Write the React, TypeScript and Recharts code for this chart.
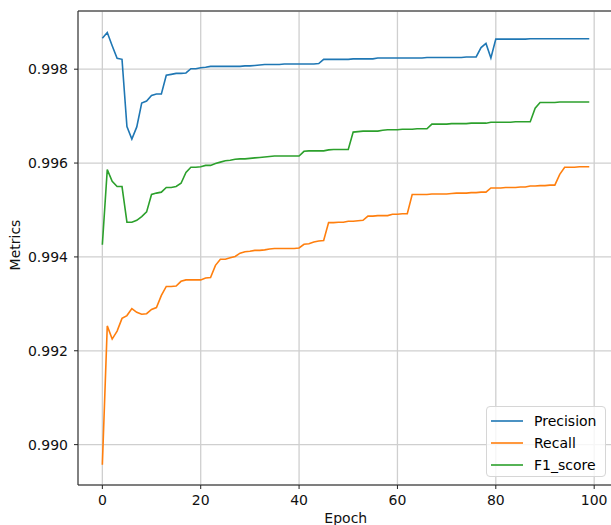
import React from "react";
import {
  LineChart,
  Line,
  XAxis,
  YAxis,
  CartesianGrid,
  ReferenceLine,
  Legend,
} from "recharts";

const precision = [
  0.99866, 0.99878, 0.9985, 0.99823, 0.99821, 0.99678, 0.99651, 0.99677, 0.99728, 0.99732,
  0.99744, 0.99747, 0.99747, 0.99787, 0.99789, 0.99791, 0.99791, 0.99792, 0.99801, 0.99801,
  0.99803, 0.99804, 0.99806, 0.99806, 0.99806, 0.99806, 0.99806, 0.99806, 0.99806, 0.99807,
  0.99807, 0.99808, 0.99809, 0.9981, 0.9981, 0.9981, 0.9981, 0.99811, 0.99811, 0.99811,
  0.99811, 0.99811, 0.99811, 0.99811, 0.99812, 0.99821, 0.99821, 0.99821, 0.99821, 0.99821,
  0.99821, 0.99822, 0.99822, 0.99822, 0.99822, 0.99822, 0.99824, 0.99824, 0.99824, 0.99824,
  0.99824, 0.99824, 0.99824, 0.99824, 0.99824, 0.99824, 0.99825, 0.99825, 0.99825, 0.99825,
  0.99825, 0.99825, 0.99825, 0.99825, 0.99826, 0.99826, 0.99826, 0.99846, 0.99855, 0.99824,
  0.99864, 0.99864, 0.99864, 0.99864, 0.99864, 0.99864, 0.99864, 0.99865, 0.99865, 0.99865,
  0.99865, 0.99865, 0.99865, 0.99865, 0.99865, 0.99865, 0.99865, 0.99865, 0.99865, 0.99865,
];

const recall = [
  0.98957, 0.99253, 0.99225, 0.99242, 0.99269, 0.99275, 0.9929, 0.99282, 0.99278, 0.99279,
  0.99288, 0.99292, 0.99318, 0.99337, 0.99337, 0.99338, 0.99348, 0.99351, 0.99351, 0.99351,
  0.99351, 0.99355, 0.99356, 0.99382, 0.99395, 0.99395, 0.99398, 0.99401, 0.99408, 0.99411,
  0.99412, 0.99414, 0.99414, 0.99415, 0.99417, 0.99418, 0.99418, 0.99418, 0.99418, 0.99418,
  0.99419, 0.99427, 0.99428, 0.99432, 0.99434, 0.99435, 0.99473, 0.99473, 0.99474, 0.99474,
  0.99476, 0.99476, 0.99477, 0.99478, 0.99487, 0.99487, 0.99488, 0.99488, 0.99488, 0.99491,
  0.99491, 0.99492, 0.99492, 0.99533, 0.99533, 0.99533, 0.99533, 0.99534, 0.99534, 0.99534,
  0.99534, 0.99535, 0.99536, 0.99536, 0.99536, 0.99537, 0.99537, 0.99538, 0.99538, 0.99547,
  0.99547, 0.99547, 0.99548, 0.99548, 0.99548, 0.99549, 0.99549, 0.99551, 0.99551, 0.99552,
  0.99552, 0.99553, 0.99553, 0.99576, 0.99591, 0.99591, 0.99591, 0.99592, 0.99592, 0.99592,
];

const f1Score = [
  0.99426, 0.99586, 0.99561, 0.9955, 0.9955, 0.99474, 0.99474, 0.99478, 0.99486, 0.99496,
  0.99533, 0.99536, 0.99538, 0.99548, 0.99548, 0.9955, 0.99557, 0.9958, 0.99591, 0.99591,
  0.99592, 0.99595, 0.99595, 0.99599, 0.99602, 0.99605, 0.99606, 0.99608, 0.99609, 0.99609,
  0.9961, 0.99611, 0.99612, 0.99613, 0.99614, 0.99615, 0.99615, 0.99615, 0.99615, 0.99615,
  0.99615, 0.99625, 0.99626, 0.99626, 0.99626, 0.99626, 0.99628, 0.99629, 0.99629, 0.99629,
  0.99629, 0.99666, 0.99667, 0.99668, 0.99668, 0.99668, 0.99668, 0.9967, 0.99671, 0.99671,
  0.99671, 0.99672, 0.99672, 0.99672, 0.99673, 0.99673, 0.99673, 0.99683, 0.99683, 0.99683,
  0.99683, 0.99684, 0.99684, 0.99684, 0.99684, 0.99685, 0.99685, 0.99685, 0.99685, 0.99687,
  0.99687, 0.99687, 0.99687, 0.99687, 0.99688, 0.99688, 0.99688, 0.99688, 0.99717, 0.99729,
  0.99729, 0.99729, 0.99729, 0.9973, 0.9973, 0.9973, 0.9973, 0.9973, 0.9973, 0.9973,
];

const xTicks = [0, 20, 40, 60, 80, 100];
const yTicks = [0.99, 0.992, 0.994, 0.996, 0.998];
const xDomain: [number, number] = [-4.95, 103.95];
const yDomain: [number, number] = [0.98914, 0.99924];

const series = [
  { key: "Precision", color: "#1f77b4", values: precision },
  { key: "Recall", color: "#ff7f0e", values: recall },
  { key: "F1_score", color: "#2ca02c", values: f1Score },
];

const data = precision.map((_, i) => {
  const row: Record<string, number> = { epoch: i };
  series.forEach((s) => {
    row[s.key] = s.values[i];
  });
  return row;
});

const FONT = "DejaVu Sans, sans-serif";

const LegendBox = () => (
  <div
    style={{
      width: 120,
      height: 71,
      boxSizing: "border-box",
      border: "1px solid #d6d6d6",
      borderRadius: 4,
      background: "rgba(255,255,255,0.8)",
      fontFamily: FONT,
      fontSize: 14,
      color: "#000",
      paddingTop: 3,
    }}
  >
    {series.map((s) => (
      <div key={s.key} style={{ display: "flex", alignItems: "center", height: 22 }}>
        <svg width={47} height={22} style={{ display: "block" }}>
          <line x1={4} y1={11} x2={36} y2={11} stroke={s.color} strokeWidth={1.6} />
        </svg>
        <span style={{ lineHeight: "22px" }}>{s.key}</span>
      </div>
    ))}
  </div>
);

export default function App() {
  return (
    <div
      style={{
        position: "absolute",
        left: 0,
        top: 0,
        width: 611,
        height: 525,
        overflow: "hidden",
        background: "#fff",
      }}
    >
      <LineChart
        width={620}
        height={525}
        data={data}
        margin={{ top: 11, right: 6.4, bottom: 0, left: 0 }}
        style={{ fontFamily: FONT }}
      >
        <CartesianGrid stroke="#cfcfcf" strokeWidth={1.3} />
        <XAxis
          dataKey="epoch"
          type="number"
          domain={xDomain}
          ticks={xTicks}
          allowDataOverflow
          height={40}
          tickSize={4}
          tickMargin={6}
          stroke="#222"
          tick={{ fill: "#111", fontSize: 14, fontFamily: FONT }}
          label={{
            value: "Epoch",
            position: "insideBottom",
            offset: 2,
            fill: "#111",
            fontSize: 14,
            fontFamily: FONT,
          }}
        />
        <YAxis
          type="number"
          domain={yDomain}
          ticks={yTicks}
          allowDataOverflow
          width={78}
          tickSize={4}
          tickMargin={6}
          stroke="#222"
          tickFormatter={(v: number) => v.toFixed(3)}
          tick={{ fill: "#111", fontSize: 14, fontFamily: FONT }}
          label={(props: any) => {
            const vb = props.viewBox || {};
            const cx = 20;
            const cy = (vb.y ?? 11) + (vb.height ?? 474) / 2 - 3;
            return (
              <text
                x={cx}
                y={cy}
                transform={`rotate(-90, ${cx}, ${cy})`}
                textAnchor="middle"
                fill="#111"
                fontSize={14}
                fontFamily={FONT}
              >
                Metrics
              </text>
            );
          }}
        />
        <ReferenceLine y={yDomain[1]} stroke="#222" strokeWidth={1} />
        {series.map((s) => (
          <Line
            key={s.key}
            type="linear"
            dataKey={s.key}
            stroke={s.color}
            strokeWidth={1.6}
            dot={false}
            activeDot={false}
            isAnimationActive={false}
          />
        ))}
        <Legend
          layout="horizontal"
          verticalAlign="middle"
          align="center"
          content={() => <LegendBox />}
          wrapperStyle={{ position: "absolute", left: 486, top: 406, width: 120, height: 71 }}
        />
      </LineChart>
    </div>
  );
}
